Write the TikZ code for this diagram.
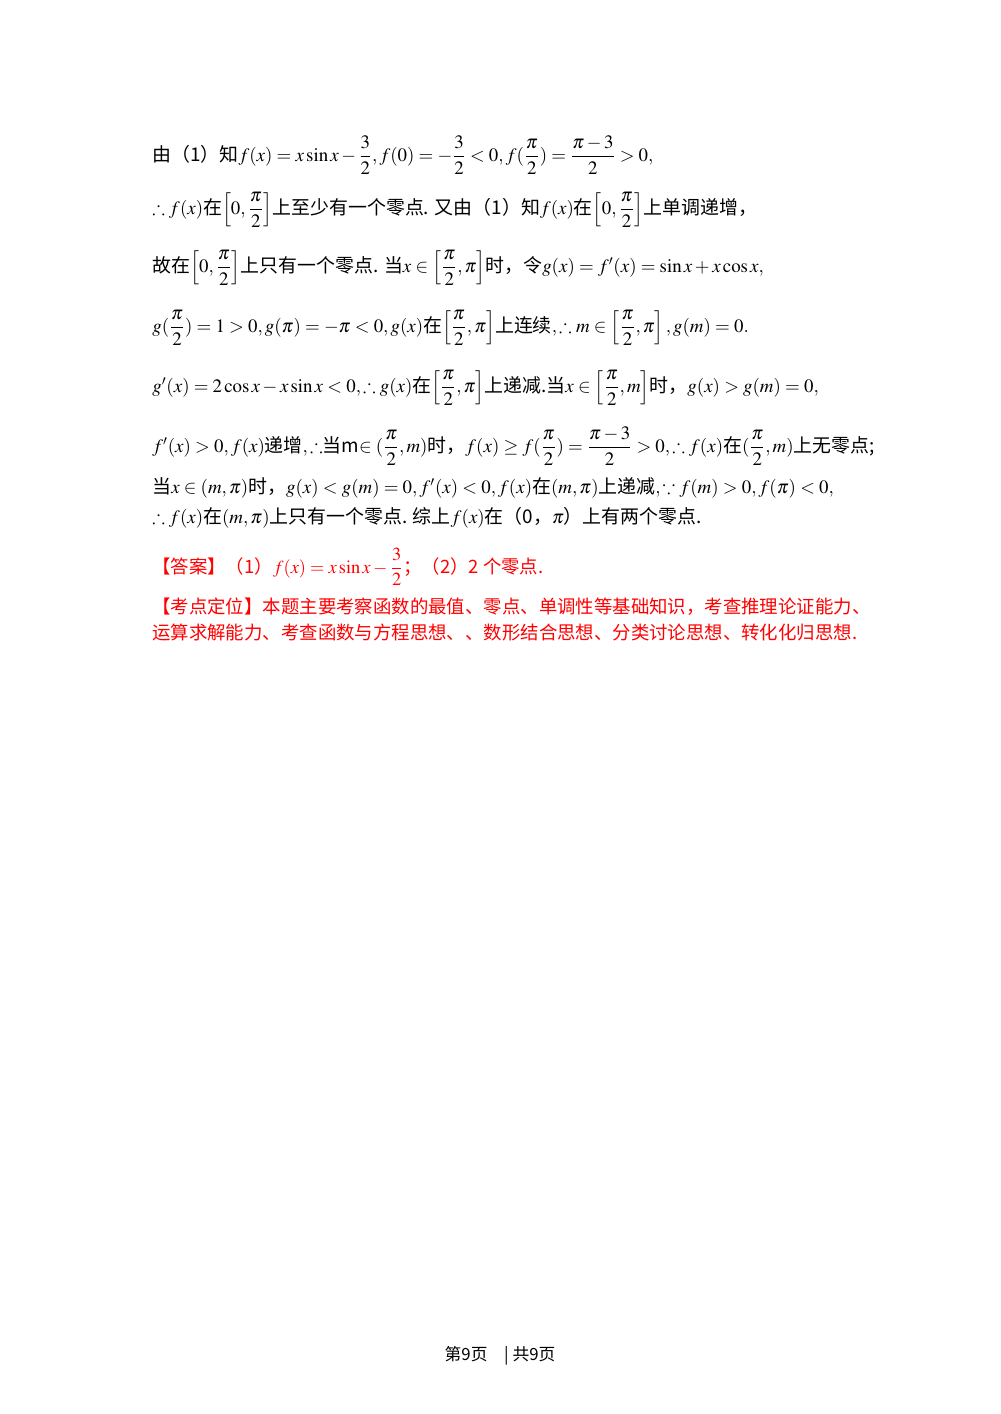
\documentclass[tikz,border=0pt]{standalone}
\usepackage{mathptmx}
\usepackage{amsmath,amssymb}
\usepackage[no-math]{fontspec}
\setmainfont{Noto Sans CJK SC}
\newcommand{\fr}[2]{\dfrac{#1}{#2}}
\begin{document}
\begin{tikzpicture}[x=0.021cm,y=-0.021cm,
  ln/.style={anchor=west,inner sep=0pt,font=\fontsize{11.3pt}{14pt}\selectfont},
  rd/.style={ln,text=red,font=\fontsize{11pt}{14pt}\selectfont}]
\useasboundingbox (0,0) rectangle (1000,1414);
\node[ln] (l1) at (152,155) {由（1）知$f(x)=x\sin x-\fr{3}{2},f(0)=-\fr{3}{2}<0,f(\fr{\pi}{2})=\fr{\pi-3}{2}>0,$};
\node[ln] (l2) at (152,210) {$\therefore f(x)$在$\left[0,\fr{\pi}{2}\right]$上至少有一个零点. 又由（1）知$f(x)$在$\left[0,\fr{\pi}{2}\right]$上单调递增，};
\node[ln] (l3) at (152,268) {故在$\left[0,\fr{\pi}{2}\right]$上只有一个零点. 当$x\in\left[\fr{\pi}{2},\pi\right]$时，令$g(x)=f'(x)=\sin x+x\cos x,$};
\node[ln] (l4) at (152,328) {$g(\fr{\pi}{2})=1>0,g(\pi)=-\pi<0,g(x)$在$\left[\fr{\pi}{2},\pi\right]$上连续$,\therefore m\in\left[\fr{\pi}{2},\pi\right],g(m)=0.$};
\node[ln] (l5) at (152,388) {$g'(x)=2\cos x-x\sin x<0,\therefore g(x)$在$\left[\fr{\pi}{2},\pi\right]$上递减.当$x\in\left[\fr{\pi}{2},m\right]$时，$g(x)>g(m)=0,$};
\node[ln] (l6) at (152,446) {$f'(x)>0,f(x)$递增$,\therefore$当m$\in(\fr{\pi}{2},m)$时，$f(x)\geq f(\fr{\pi}{2})=\fr{\pi-3}{2}>0,\therefore f(x)$在$(\fr{\pi}{2},m)$上无零点;};
\node[ln] (l7) at (152,488) {当$x\in(m,\pi)$时，$g(x)<g(m)=0,f'(x)<0,f(x)$在$(m,\pi)$上递减$,\because f(m)>0,f(\pi)<0,$};
\node[ln] (l8) at (152,518) {$\therefore f(x)$在$(m,\pi)$上只有一个零点. 综上$f(x)$在（0，$\pi$）上有两个零点.};
\node[rd] (l9) at (152,567) {【答案】（1）$f(x)=x\sin x-\fr{3}{2}$；（2）2 个零点.};
\node[rd] (l10) at (152,607) {【考点定位】本题主要考察函数的最值、零点、单调性等基础知识，考查推理论证能力、};
\node[rd] (l11) at (152,632) {运算求解能力、考查函数与方程思想、、数形结合思想、分类讨论思想、转化化归思想.};
\node[anchor=center,inner sep=0pt,font=\fontsize{10pt}{12pt}\selectfont] (ft) at (500,1356) {第9页\quad| 共9页};
\end{tikzpicture}
\end{document}
